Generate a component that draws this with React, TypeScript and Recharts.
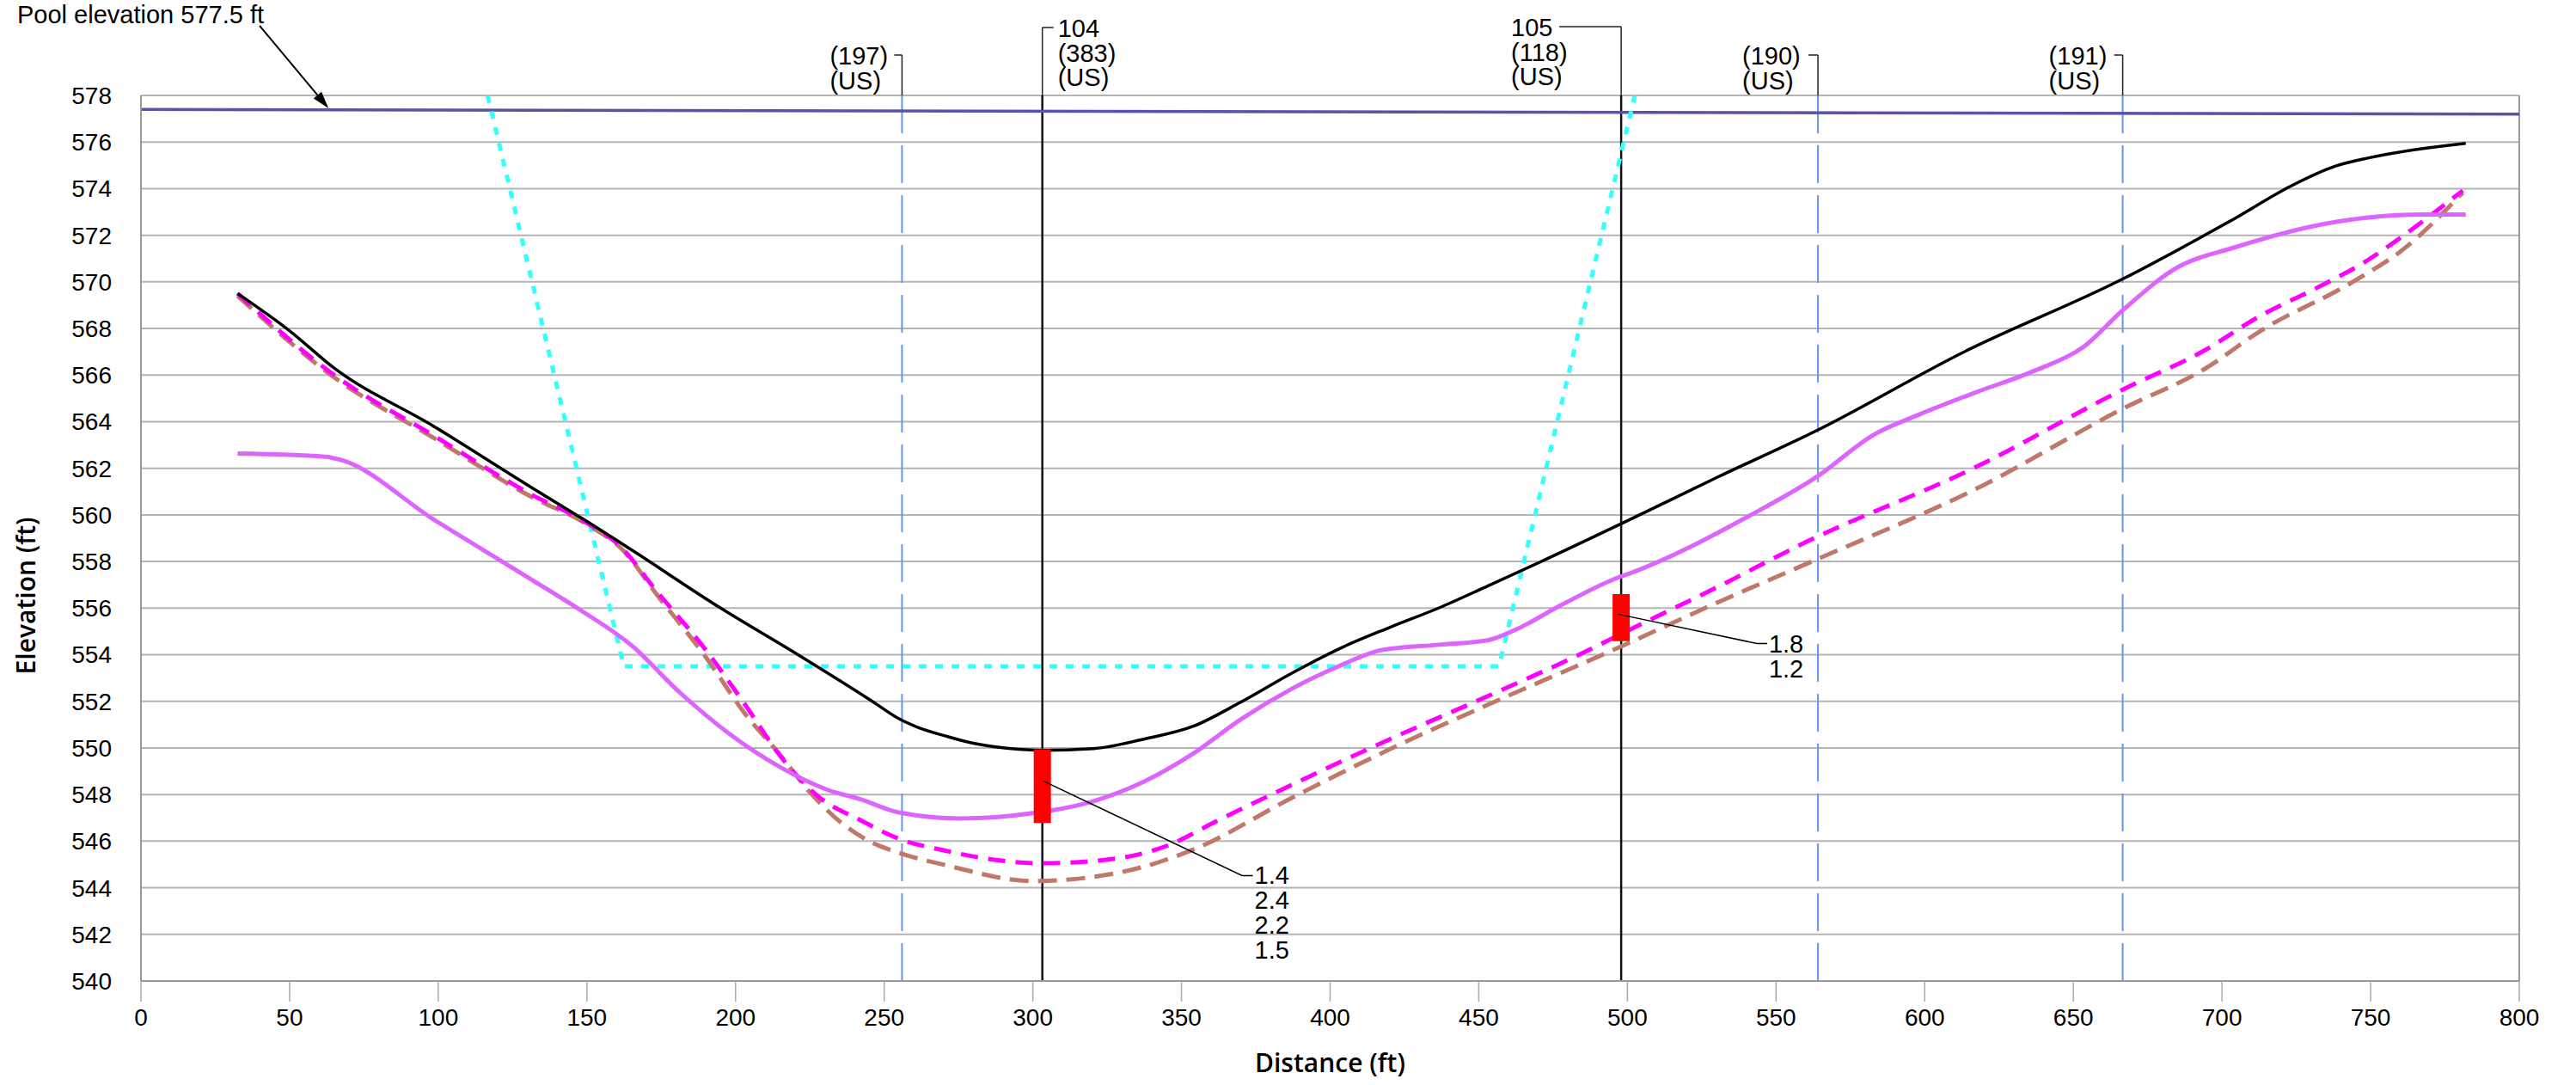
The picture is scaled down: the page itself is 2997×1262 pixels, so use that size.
import React from 'react';
import {
  ComposedChart, Line, XAxis, YAxis, CartesianGrid, ReferenceLine, ReferenceDot,
} from 'recharts';

const W = 2997;
const H = 1262;
const FONT = '"Liberation Sans", Arial, sans-serif';
const TITLE_FONT = '"Open Sans", "Liberation Sans", sans-serif';

// axes
const distTicks = [0, 50, 100, 150, 200, 250, 300, 350, 400, 450, 500, 550, 600, 650, 700, 750, 800];
const elevTicks = [540, 542, 544, 546, 548, 550, 552, 554, 556, 558, 560, 562, 564, 566, 568, 570, 572, 574, 576, 578];

// black solid profile
const blackX = [32.5, 50, 65, 98.5, 131.7, 149, 165, 195, 221, 246, 255, 261, 271, 280, 287, 303, 321, 337, 354, 370, 387, 404, 420, 437, 453, 470, 502, 530, 564, 613, 667, 692, 704, 723, 738, 750, 782];
const blackY = [569.5, 567.9, 566.3, 563.8, 561.15, 559.8, 558.5, 556.0, 554.0, 552.0, 551.25, 550.9, 550.5, 550.2, 550.05, 549.9, 549.98, 550.37, 550.93, 551.97, 553.2, 554.31, 555.17, 556.03, 556.95, 557.94, 559.87, 561.6, 563.64, 566.98, 570.15, 571.85, 572.7, 574.1, 574.96, 575.34, 575.94];

// violet solid profile
const violetX = [32.5, 62, 67, 98.5, 131.7, 148, 165, 181.5, 198, 214.7, 231, 242, 255, 276, 300, 320, 337, 354, 370, 387, 404, 417, 437, 453, 462, 478, 497, 502, 541, 564, 583, 598, 617, 637, 653, 667, 685, 704, 738, 767, 782];
const violetY = [562.63, 562.5, 562.37, 559.8, 557.2, 555.9, 554.4, 552.35, 550.6, 549.2, 548.2, 547.8, 547.23, 546.97, 547.2, 547.7, 548.53, 549.76, 551.23, 552.53, 553.57, 554.19, 554.43, 554.62, 555.05, 556.15, 557.32, 557.55, 559.96, 561.66, 563.45, 564.3, 565.25, 566.19, 567.17, 568.83, 570.62, 571.47, 572.57, 572.89, 572.89];

// magenta dashed profile
const magentaX = [32.5, 65, 98.5, 131.7, 148, 161.6, 173, 190, 203, 216, 228, 242, 255, 271, 287, 303, 329, 345.5, 362, 387, 420, 453, 487, 498, 531, 560, 617, 667, 694, 713, 732, 748, 759, 781];
const magentaY = [569.5, 566.0, 563.4, 560.85, 559.8, 558.6, 556.8, 554.2, 551.9, 549.5, 547.9, 546.9, 546.1, 545.58, 545.2, 545.05, 545.27, 545.82, 546.87, 548.41, 550.37, 552.22, 554.2, 554.9, 556.95, 558.83, 562.04, 565.4, 567.05, 568.55, 569.75, 570.85, 571.8, 573.92];

// brown dashed profile
const brownX = [32.5, 65, 98.5, 131.7, 150, 162, 174, 190, 203, 215, 225, 235, 245, 255, 271, 300, 329, 354, 387, 420, 453, 495, 531, 563.5, 617, 667, 694, 713, 744, 761, 781];
const brownY = [569.4, 565.9, 563.3, 560.75, 559.6, 558.5, 556.5, 553.9, 551.5, 549.7, 548.1, 546.85, 546.0, 545.5, 544.96, 544.29, 544.65, 545.64, 547.85, 549.94, 551.85, 554.19, 556.28, 558.08, 561.1, 564.58, 566.25, 567.9, 570.0, 571.4, 573.83];

// cyan dotted excavation outline
const cyanX = [116.6, 162.4, 456.8, 502.5];
const cyanY = [578, 553.5, 553.5, 578];

// pool elevation line and its arrow
const poolX = [0, 800];
const poolY = [577.4, 577.2];
const poolArrowX = [39.9, 63.1];
const poolArrowY = [580.99, 577.45];

// cross sections
const sectionX = [256, 303.2, 497.9, 564.1, 666.6];
const sectionLabels = [['(197)', '(US)'], ['104', '(383)', '(US)'], ['105', '(118)', '(US)'], ['(190)', '(US)'], ['(191)', '(US)']];
const sectionSolid = [false, true, true, false, false];

// red bars
const barX = [303.2, 497.9];
const barTop = [549.94, 556.6];
const barBottom = [546.78, 554.58];

// callouts
const callout1X = [303.5, 370.4, 374];
const callout1Y = [548.58, 544.52, 544.52];
const callout1Text = ['1.4', '2.4', '2.2', '1.5'];
const callout2X = [496.9, 543.6, 547];
const callout2Y = [555.74, 554.48, 554.48];
const callout2Text = ['1.8', '1.2'];

const toRows = (xs: number[], ys: number[]) => xs.map((x, i) => ({ x, y: ys[i] }));

// per-section label placement (px relative to the line)
const sectionLayout = [
  { dx: -84, tick: [-9, 0], lift: 47 },
  { dx: 18, tick: [0, 13], lift: 79 },
  { dx: -128, tick: [-72, 0], lift: 80 },
  { dx: -88, tick: [-11, 0], lift: 47 },
  { dx: -86, tick: [-10, 0], lift: 47 },
];

function SectionLabel({ viewBox, lines, dx, tick, lift }: any) {
  if (!viewBox) return null;
  const { x, y } = viewBox;
  const top = y - lift;
  return (
    <g>
      <line x1={x} y1={top} x2={x} y2={y} stroke="#222" strokeWidth={1.5} />
      <line x1={x + tick[0]} y1={top} x2={x + tick[1]} y2={top} stroke="#222" strokeWidth={1.5} />
      {lines.map((t: string, i: number) => (
        <text key={i} x={x + dx} y={top + 1 + i * 28.5} dominantBaseline="central"
          fontSize={29} fontFamily={FONT} fill="#000">{t}</text>
      ))}
    </g>
  );
}

function CalloutText({ viewBox, lines, step }: any) {
  if (!viewBox) return null;
  return (
    <g>
      {lines.map((t: string, i: number) => (
        <text key={i} x={viewBox.x + 2} y={viewBox.y + i * step} dominantBaseline="central"
          fontSize={29} fontFamily={FONT} fill="#000">{t}</text>
      ))}
    </g>
  );
}

function PoolArrow(props: any) {
  const { x1, y1, x2, y2 } = props;
  const a = Math.atan2(y2 - y1, x2 - x1);
  const c = Math.cos(a);
  const s = Math.sin(a);
  const bx = x2 - 20 * c;
  const by = y2 - 20 * s;
  return (
    <g>
      <line x1={x1} y1={y1} x2={bx} y2={by} stroke="#000" strokeWidth={2} />
      <polygon
        points={`${x2},${y2} ${bx + 6 * s},${by - 6 * c} ${bx - 6 * s},${by + 6 * c}`}
        fill="#000"
      />
      <text x={x1 + 5} y={y1 - 3} textAnchor="end" fontSize={29} fontFamily={FONT} fill="#000">
        Pool elevation 577.5 ft
      </text>
    </g>
  );
}

export default function App() {
  return (
    <div style={{ position: 'absolute', left: 0, top: 0, width: W, height: H, background: '#fff', overflow: 'hidden' }}>
      <ComposedChart width={W} height={H} margin={{ top: 111, right: 66, bottom: 0, left: 0 }}>
        <CartesianGrid vertical={false} stroke="#b4b4b4" strokeWidth={2} />
        <XAxis
          dataKey="x"
          type="number"
          domain={[0, 800]}
          ticks={distTicks}
          height={121}
          tickSize={24}
          tickMargin={8}
          tickLine={{ stroke: '#aaa', strokeWidth: 1.5 }}
          axisLine={{ stroke: '#999', strokeWidth: 2 }}
          tick={{ fontSize: 28, fill: '#000', fontFamily: FONT }}
          label={(p: any) => {
            const vb = p.viewBox;
            return (
              <text x={vb.x + vb.width / 2} y={vb.y + vb.height - 15} textAnchor="middle"
                fontSize={30} fontWeight={600} fontFamily={TITLE_FONT} fill="#000">Distance (ft)</text>
            );
          }}
        />
        <YAxis
          type="number"
          domain={[540, 578]}
          ticks={elevTicks}
          width={164}
          tickMargin={28}
          tickLine={false}
          axisLine={{ stroke: '#999', strokeWidth: 2 }}
          tick={{ fontSize: 28, fill: '#000', fontFamily: FONT }}
          label={(p: any) => {
            const vb = p.viewBox;
            const cx = vb.x + 30;
            const cy = vb.y + vb.height * 0.565;
            return (
              <text x={cx} y={cy} transform={`rotate(-90 ${cx} ${cy})`} textAnchor="middle"
                dominantBaseline="central" fontSize={30} fontWeight={600} fontFamily={TITLE_FONT} fill="#000">
                Elevation (ft)
              </text>
            );
          }}
        />
        <ReferenceLine x={800} stroke="#999" strokeWidth={2} />

        {sectionX.map((sx, i) => (
          <ReferenceLine
            key={`sec${i}`}
            x={sx}
            stroke={sectionSolid[i] ? '#111' : '#6495ed'}
            strokeWidth={sectionSolid[i] ? 2.5 : 2}
            strokeDasharray={sectionSolid[i] ? undefined : '44 14'}
            label={(p: any) => <SectionLabel viewBox={p.viewBox} lines={sectionLabels[i]} {...sectionLayout[i]} />}
          />
        ))}

        <Line data={toRows(poolX, poolY)} dataKey="y" type="linear" stroke="#5852a8" strokeWidth={3.5}
          dot={false} activeDot={false} isAnimationActive={false} />
        <ReferenceLine
          segment={toRows(poolArrowX, poolArrowY)}
          ifOverflow="visible"
          shape={(p: any) => <PoolArrow {...p} />}
        />

        <Line data={toRows(cyanX, cyanY)} dataKey="y" type="linear" stroke="#33ffff" strokeWidth={5}
          strokeDasharray="9 10" dot={false} activeDot={false} isAnimationActive={false} />
        <Line data={toRows(brownX, brownY)} dataKey="y" type="monotone" stroke="#c0786a" strokeWidth={5}
          strokeDasharray="22 11" dot={false} activeDot={false} isAnimationActive={false} />
        <Line data={toRows(magentaX, magentaY)} dataKey="y" type="monotone" stroke="#ff00ff" strokeWidth={5}
          strokeDasharray="20 12" dot={false} activeDot={false} isAnimationActive={false} />
        <Line data={toRows(violetX, violetY)} dataKey="y" type="monotone" stroke="#dc64ff" strokeWidth={5}
          dot={false} activeDot={false} isAnimationActive={false} />
        <Line data={toRows(blackX, blackY)} dataKey="y" type="monotone" stroke="#000" strokeWidth={3.5}
          dot={false} activeDot={false} isAnimationActive={false} />

        {barX.map((bx, i) => (
          <Line key={`bar${i}`} data={toRows([bx, bx], [barTop[i], barBottom[i]])} dataKey="y" type="linear"
            stroke="#ff0000" strokeWidth={20} strokeLinecap="butt"
            dot={false} activeDot={false} isAnimationActive={false} />
        ))}

        <Line data={toRows(callout1X, callout1Y)} dataKey="y" type="linear" stroke="#000" strokeWidth={1.5}
          dot={false} activeDot={false} isAnimationActive={false} />
        <Line data={toRows(callout2X, callout2Y)} dataKey="y" type="linear" stroke="#000" strokeWidth={1.5}
          dot={false} activeDot={false} isAnimationActive={false} />
        <ReferenceDot x={callout1X[2]} y={callout1Y[2]} r={0} fill="none" stroke="none"
          label={(p: any) => <CalloutText viewBox={p.viewBox} lines={callout1Text} step={28.7} />} />
        <ReferenceDot x={callout2X[2]} y={callout2Y[2]} r={0} fill="none" stroke="none"
          label={(p: any) => <CalloutText viewBox={p.viewBox} lines={callout2Text} step={29.5} />} />
      </ComposedChart>
    </div>
  );
}
